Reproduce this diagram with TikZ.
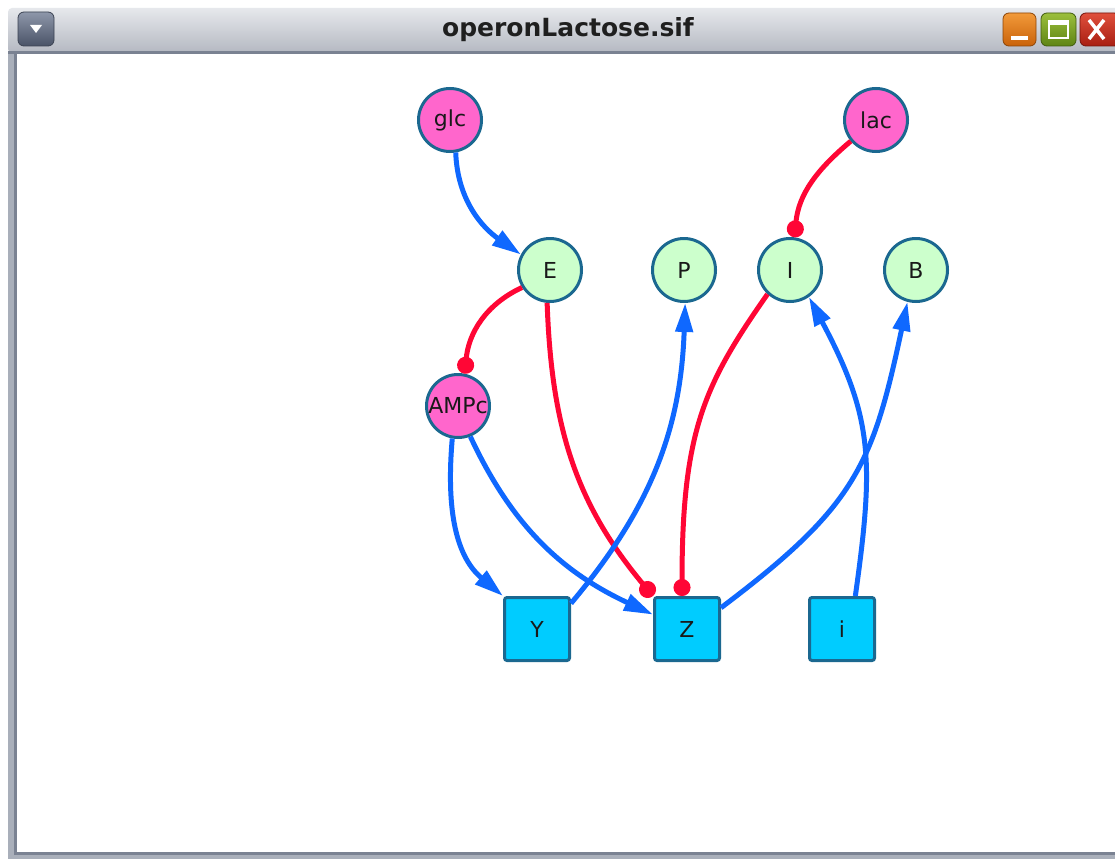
\documentclass[tikz,border=0pt]{standalone}
\usepackage{fontspec}
\setmainfont{DejaVu Sans}
\usetikzlibrary{arrows.meta}
\definecolor{pinkfill}{HTML}{FF66CC}
\definecolor{greenfill}{HTML}{CCFFCC}
\definecolor{cyanfill}{HTML}{00CCFF}
\definecolor{nodeborder}{HTML}{1B6890}
\definecolor{actblue}{HTML}{0F68FF}
\definecolor{inhred}{HTML}{FF0635}
\definecolor{titletop}{HTML}{E6E8EC}
\definecolor{titlebot}{HTML}{B4B8C1}
\definecolor{framegray}{HTML}{A9AFBA}
\definecolor{framedark}{HTML}{7A8292}
\definecolor{btntop}{HTML}{8E97AA}
\definecolor{btnbot}{HTML}{4A5367}
\definecolor{orangetop}{HTML}{F29A3A}
\definecolor{orangebot}{HTML}{C9620A}
\definecolor{greentop}{HTML}{9CBF3C}
\definecolor{greenbot}{HTML}{5E8414}
\definecolor{redtop}{HTML}{E0503C}
\definecolor{redbot}{HTML}{A81E12}
\tikzset{
  circnode/.style={circle, draw=nodeborder, line width=3pt, minimum size=63pt, inner sep=0pt,
    text=black!90, font=\fontsize{22}{22}\selectfont},
  pinknode/.style={circnode, fill=pinkfill},
  greennode/.style={circnode, fill=greenfill},
  boxnode/.style={rectangle, rounded corners=2.5pt, draw=nodeborder, line width=3pt, fill=cyanfill,
    minimum width=65pt, minimum height=63pt, inner sep=0pt, text=black!90, font=\fontsize{22}{22}\selectfont},
  act/.style={draw=actblue, line width=5pt, -{Triangle[length=29pt,width=17pt]}},
  inh/.style={draw=inhred, line width=5pt, -{Circle[length=17pt]}},
}
\begin{document}
\begin{tikzpicture}[x=1pt,y=1pt]
\useasboundingbox (0,0) rectangle (1115,-859);
\fill[white] (0,0) rectangle (1115,-859);
% window frame
\shade[top color=titletop, bottom color=titlebot, rounded corners=4pt] (8,-53) -- (8,-8) -- (1125,-8) -- (1125,-53) -- cycle;
\fill[framegray] (8,-53) rectangle (17,-859);
\fill[framegray] (8,-852) rectangle (1115,-859);
\fill[framedark] (14,-53) rectangle (17,-855);
\fill[framedark] (14,-852) rectangle (1115,-855);
\fill[framedark] (8,-51) rectangle (1115,-54);
\fill[white] (17,-54) rectangle (1115,-852);
% menu button
\shade[top color=btntop, bottom color=btnbot, rounded corners=6pt, draw=btnbot!80!black, line width=0.8pt] (18,-12) rectangle (54,-46);
\fill[white] (30,-25) -- (42,-25) -- (36,-33) -- cycle;
% title
\node[font=\bfseries\fontsize{25}{25}\selectfont, text=black!88] (title) at (568,-30) {operonLactose.sif};
% right buttons
\shade[top color=orangetop, bottom color=orangebot, rounded corners=6pt, draw=orangebot!70!black, line width=0.8pt] (1003,-13) rectangle (1036,-46);
\fill[white] (1011,-36) rectangle (1028,-40);
\shade[top color=greentop, bottom color=greenbot, rounded corners=6pt, draw=greenbot!70!black, line width=0.8pt] (1041,-13) rectangle (1076,-46);
\draw[white, line width=2pt] (1049,-21) rectangle (1068,-38);
\fill[white] (1049,-21) rectangle (1068,-25);
\shade[top color=redtop, bottom color=redbot, rounded corners=6pt, draw=redbot!70!black, line width=0.8pt] (1080,-13) rectangle (1120,-46);
\draw[white, line width=3.5pt] (1089,-20) -- (1104,-39) (1104,-20) -- (1089,-39);
% nodes
\node[pinknode] (glc) at (450,-120) {glc};
\node[pinknode] (lac) at (876,-120) {lac};
\node[greennode] (E) at (550,-270) {E};
\node[greennode] (P) at (684,-270) {P};
\node[greennode] (I) at (790,-270) {I};
\node[greennode] (B) at (916,-270) {B};
\node[pinknode] (AMPc) at (458,-406) {AMPc};
\node[boxnode] (Y) at (537,-629) {Y};
\node[boxnode] (Z) at (687,-629) {Z};
\node[boxnode] (i) at (842,-629) {i};
% edges
\path[act] (glc.-80) to[out=-88,in=145] (E.152);
\path[inh] (lac.220) to[out=220,in=85] (I.82);
\path[inh] (E.212) to[out=205,in=85] (AMPc.78);
\path[inh] (E.-95) to[out=-88,in=130] (Z.north west);
\path[inh] (I.227) to[out=235,in=90,out looseness=0.9,in looseness=1.35] ([xshift=-5pt]Z.north);
\path[act] (AMPc.-100) to[out=-95,in=140] (Y.north west);
\path[act] (AMPc.-68) to[out=-65,in=155] (Z.157);
\path[act] (Y.37) to[out=50,in=-92] (P.-88);
\path[act] (Z.32) to[out=37,in=-102,looseness=1.2] (B.-105);
\path[act] (i.68) to[out=82,in=-62,looseness=1.15] (I.-55);
\end{tikzpicture}
\end{document}
